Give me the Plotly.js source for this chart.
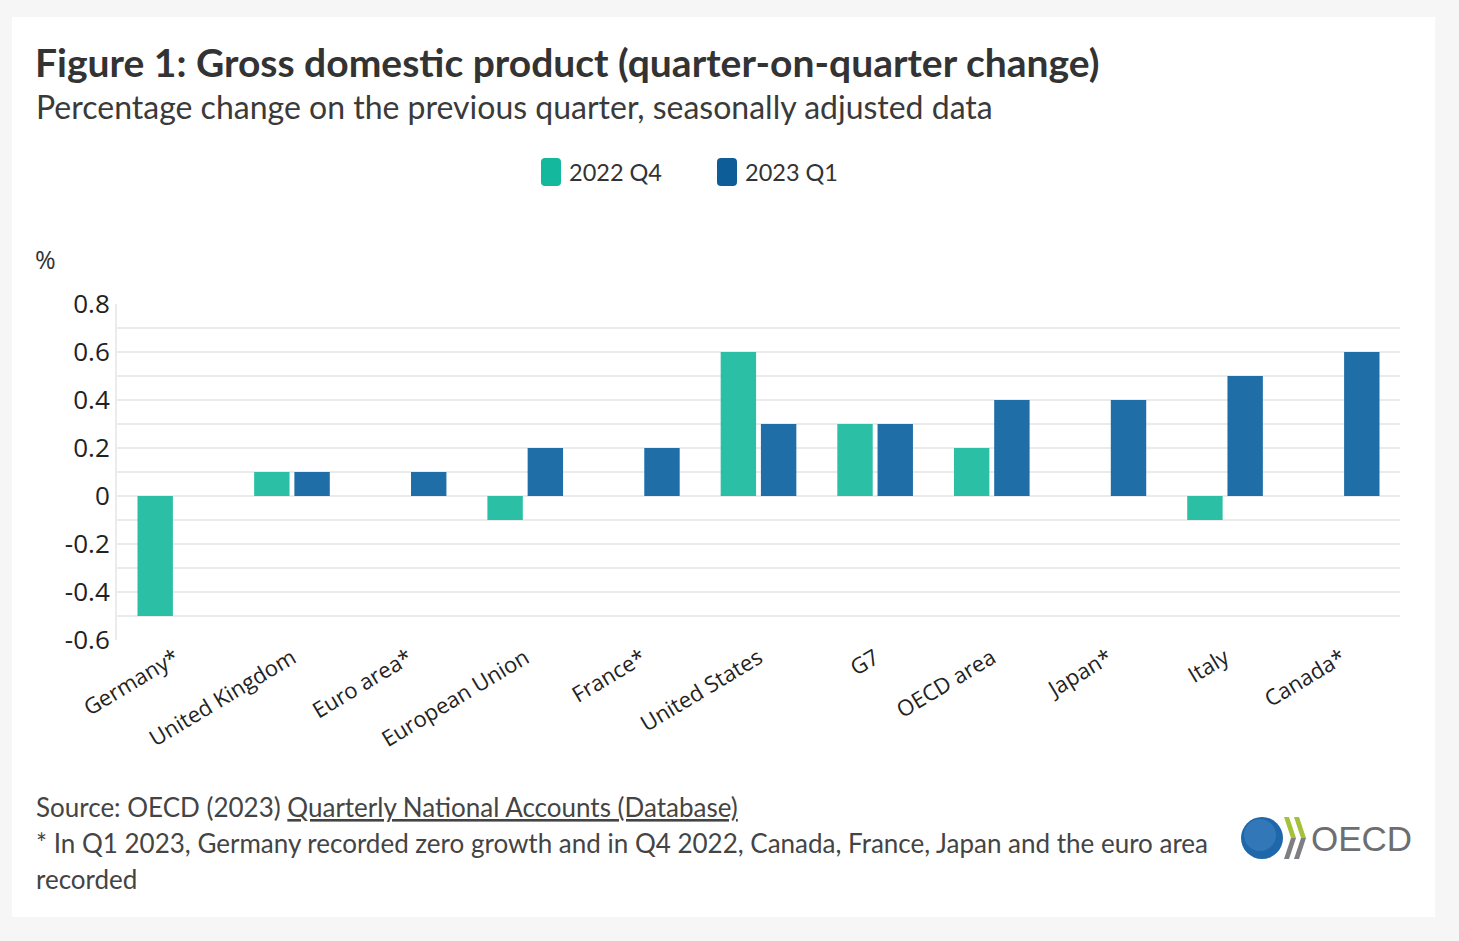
<!DOCTYPE html>
<html>
<head>
<meta charset="utf-8">
<script src="https://cdn.plot.ly/plotly-3.0.1.min.js"></script>
<style>
  html, body { margin: 0; padding: 0; background: #f6f6f6; }
  #card { position: absolute; left: 12px; top: 17px; width: 1423px; height: 900px; background: #ffffff; }
  #chart { width: 1423px; height: 900px; }
</style>
</head>
<body>
<div id="card"><div id="chart"></div></div>
<script>
// ---- data ----
const categories = ["Germany*", "United Kingdom", "Euro area*", "European Union", "France*",
  "United States", "G7", "OECD area", "Japan*", "Italy", "Canada*"];
const q4_2022 = [-0.5, 0.1, 0, -0.1, 0, 0.6, 0.3, 0.2, 0, -0.1, 0];
const q1_2023 = [0, 0.1, 0.1, 0.2, 0.2, 0.3, 0.3, 0.4, 0.4, 0.5, 0.6];
const seriesNames = ["2022 Q4", "2023 Q1"];
const yTickVals = [-0.6, -0.4, -0.2, 0, 0.2, 0.4, 0.6, 0.8];
const yTickText = ["-0.6", "-0.4", "-0.2", "0", "0.2", "0.4", "0.6", "0.8"];

// ---- layout helpers (image pixel -> paper coords) ----
const W = 1423, H = 900, ML = 105, MR = 35, MT = 287, MB = 277;
const PW = W - ML - MR, PH = H - MT - MB;
const fx = ox => (ox - 12 - ML) / PW;
const fy = oy => (H - MB - (oy - 17)) / PH;

const teal = "#2bc0a6", blue = "#1f6ea8";
const tealSw = "#14b89c", blueSw = "#0c5d98";
const textFont = "Lato, 'Noto Sans', sans-serif";
const tickFont = "'Open Sans', 'Noto Sans', sans-serif";

function rrect(x0, y0, x1, y1, r) {
  const X = fx, Y = fy;
  return `M${X(x0 + r)},${Y(y0)} L${X(x1 - r)},${Y(y0)} Q${X(x1)},${Y(y0)} ${X(x1)},${Y(y0 + r)} ` +
    `L${X(x1)},${Y(y1 - r)} Q${X(x1)},${Y(y1)} ${X(x1 - r)},${Y(y1)} L${X(x0 + r)},${Y(y1)} ` +
    `Q${X(x0)},${Y(y1)} ${X(x0)},${Y(y1 - r)} L${X(x0)},${Y(y0 + r)} Q${X(x0)},${Y(y0)} ${X(x0 + r)},${Y(y0)} Z`;
}
function poly(pts) {
  return pts.map((p, i) => (i ? "L" : "M") + fx(p[0]) + "," + fy(p[1])).join(" ") + " Z";
}

const traces = [
  { type: "bar", name: seriesNames[0], x: categories, y: q4_2022, marker: { color: teal, line: { width: 0 } },
    hoverinfo: "x+y" },
  { type: "bar", name: seriesNames[1], x: categories, y: q1_2023, marker: { color: blue, line: { width: 0 } },
    hoverinfo: "x+y" }
];

const ann = (text, ox, oy, size, opts) => Object.assign({
  text, x: fx(ox), y: fy(oy), xref: "paper", yref: "paper", xanchor: "left", yanchor: "middle",
  showarrow: false, font: { family: textFont, size, color: "#333333" }, align: "left"
}, opts || {});

const footFont = { family: textFont, size: 26, color: "#444444" };
const annotations = [
  ann("<b>Figure 1: Gross domestic product (quarter-on-quarter change)</b>", 33, 62, 39, { font: { family: textFont, size: 39, color: "#333333" } }),
  ann("Percentage change on the previous quarter, seasonally adjusted data", 34, 106, 32, { font: { family: textFont, size: 32, color: "#3a3a3a" } }),
  ann(seriesNames[0], 567, 172, 23.5),
  ann(seriesNames[1], 743, 172, 23.5),
  ann("%", 33, 259, 25, { font: { family: tickFont, size: 25, color: "#333333" } }),
  ann('Source: OECD (2023) <span style="text-decoration:underline">Quarterly National Accounts (Database)</span>', 34, 807, 26, { font: footFont }),
  ann("* In Q1 2023, Germany recorded zero growth and in Q4 2022, Canada, France, Japan and the euro area", 34, 843, 26, { font: footFont }),
  ann("recorded", 34, 879, 26, { font: footFont }),
  ann("OECD", 1309, 838, 35, { font: { family: "'Liberation Sans', Arial, sans-serif", size: 35, color: "#6d6e71" } })
];

const shapes = [
  { type: "path", xref: "paper", yref: "paper", path: rrect(541, 158, 561, 186, 4), fillcolor: tealSw, line: { width: 0 } },
  { type: "path", xref: "paper", yref: "paper", path: rrect(717, 158, 737, 186, 4), fillcolor: blueSw, line: { width: 0 } },
  // OECD logo
  { type: "circle", xref: "paper", yref: "paper", x0: fx(1241), x1: fx(1283), y0: fy(817), y1: fy(859), fillcolor: "#1f67ab", line: { width: 0 } },
  { type: "circle", xref: "paper", yref: "paper", x0: fx(1244), x1: fx(1276), y0: fy(819), y1: fy(851), fillcolor: "#4a8cc8", opacity: 0.45, line: { width: 0 } },
  { type: "path", xref: "paper", yref: "paper", path: poly([[1284, 817], [1289, 817], [1296, 838], [1291, 838]]), fillcolor: "#a3c23a", line: { width: 0 } },
  { type: "path", xref: "paper", yref: "paper", path: poly([[1291, 838], [1296, 838], [1289, 859], [1284, 859]]), fillcolor: "#7d7f82", line: { width: 0 } },
  { type: "path", xref: "paper", yref: "paper", path: poly([[1294, 817], [1299, 817], [1306, 838], [1301, 838]]), fillcolor: "#a3c23a", line: { width: 0 } },
  { type: "path", xref: "paper", yref: "paper", path: poly([[1301, 838], [1306, 838], [1299, 859], [1294, 859]]), fillcolor: "#7d7f82", line: { width: 0 } }
];

const layout = {
  width: W, height: H,
  margin: { l: ML, r: MR, t: MT, b: MB, pad: 0 },
  paper_bgcolor: "#ffffff", plot_bgcolor: "#ffffff",
  showlegend: false,
  barmode: "group", bargap: 0.31, bargroupgap: 0.12,
  xaxis: {
    type: "category", tickangle: -31, automargin: false,
    tickfont: { family: tickFont, size: 22, color: "#222222" },
    showgrid: false, showline: false, zeroline: false, ticks: "", ticklen: 0
  },
  yaxis: {
    range: [-0.6, 0.8], tickvals: yTickVals, ticktext: yTickText, automargin: false,
    tickfont: { family: tickFont, size: 26, color: "#222222" },
    showgrid: true, gridcolor: "#ebebeb", gridwidth: 2,
    minor: { dtick: 0.1, tick0: 0, showgrid: true, gridcolor: "#ebebeb", gridwidth: 2, ticks: "" },
    zeroline: false, showline: true, linecolor: "#ebebeb", linewidth: 2,
    ticks: "", ticklen: 0
  },
  annotations, shapes
};

Plotly.newPlot("chart", traces, layout, { displayModeBar: false, staticPlot: true });
</script>
</body>
</html>
